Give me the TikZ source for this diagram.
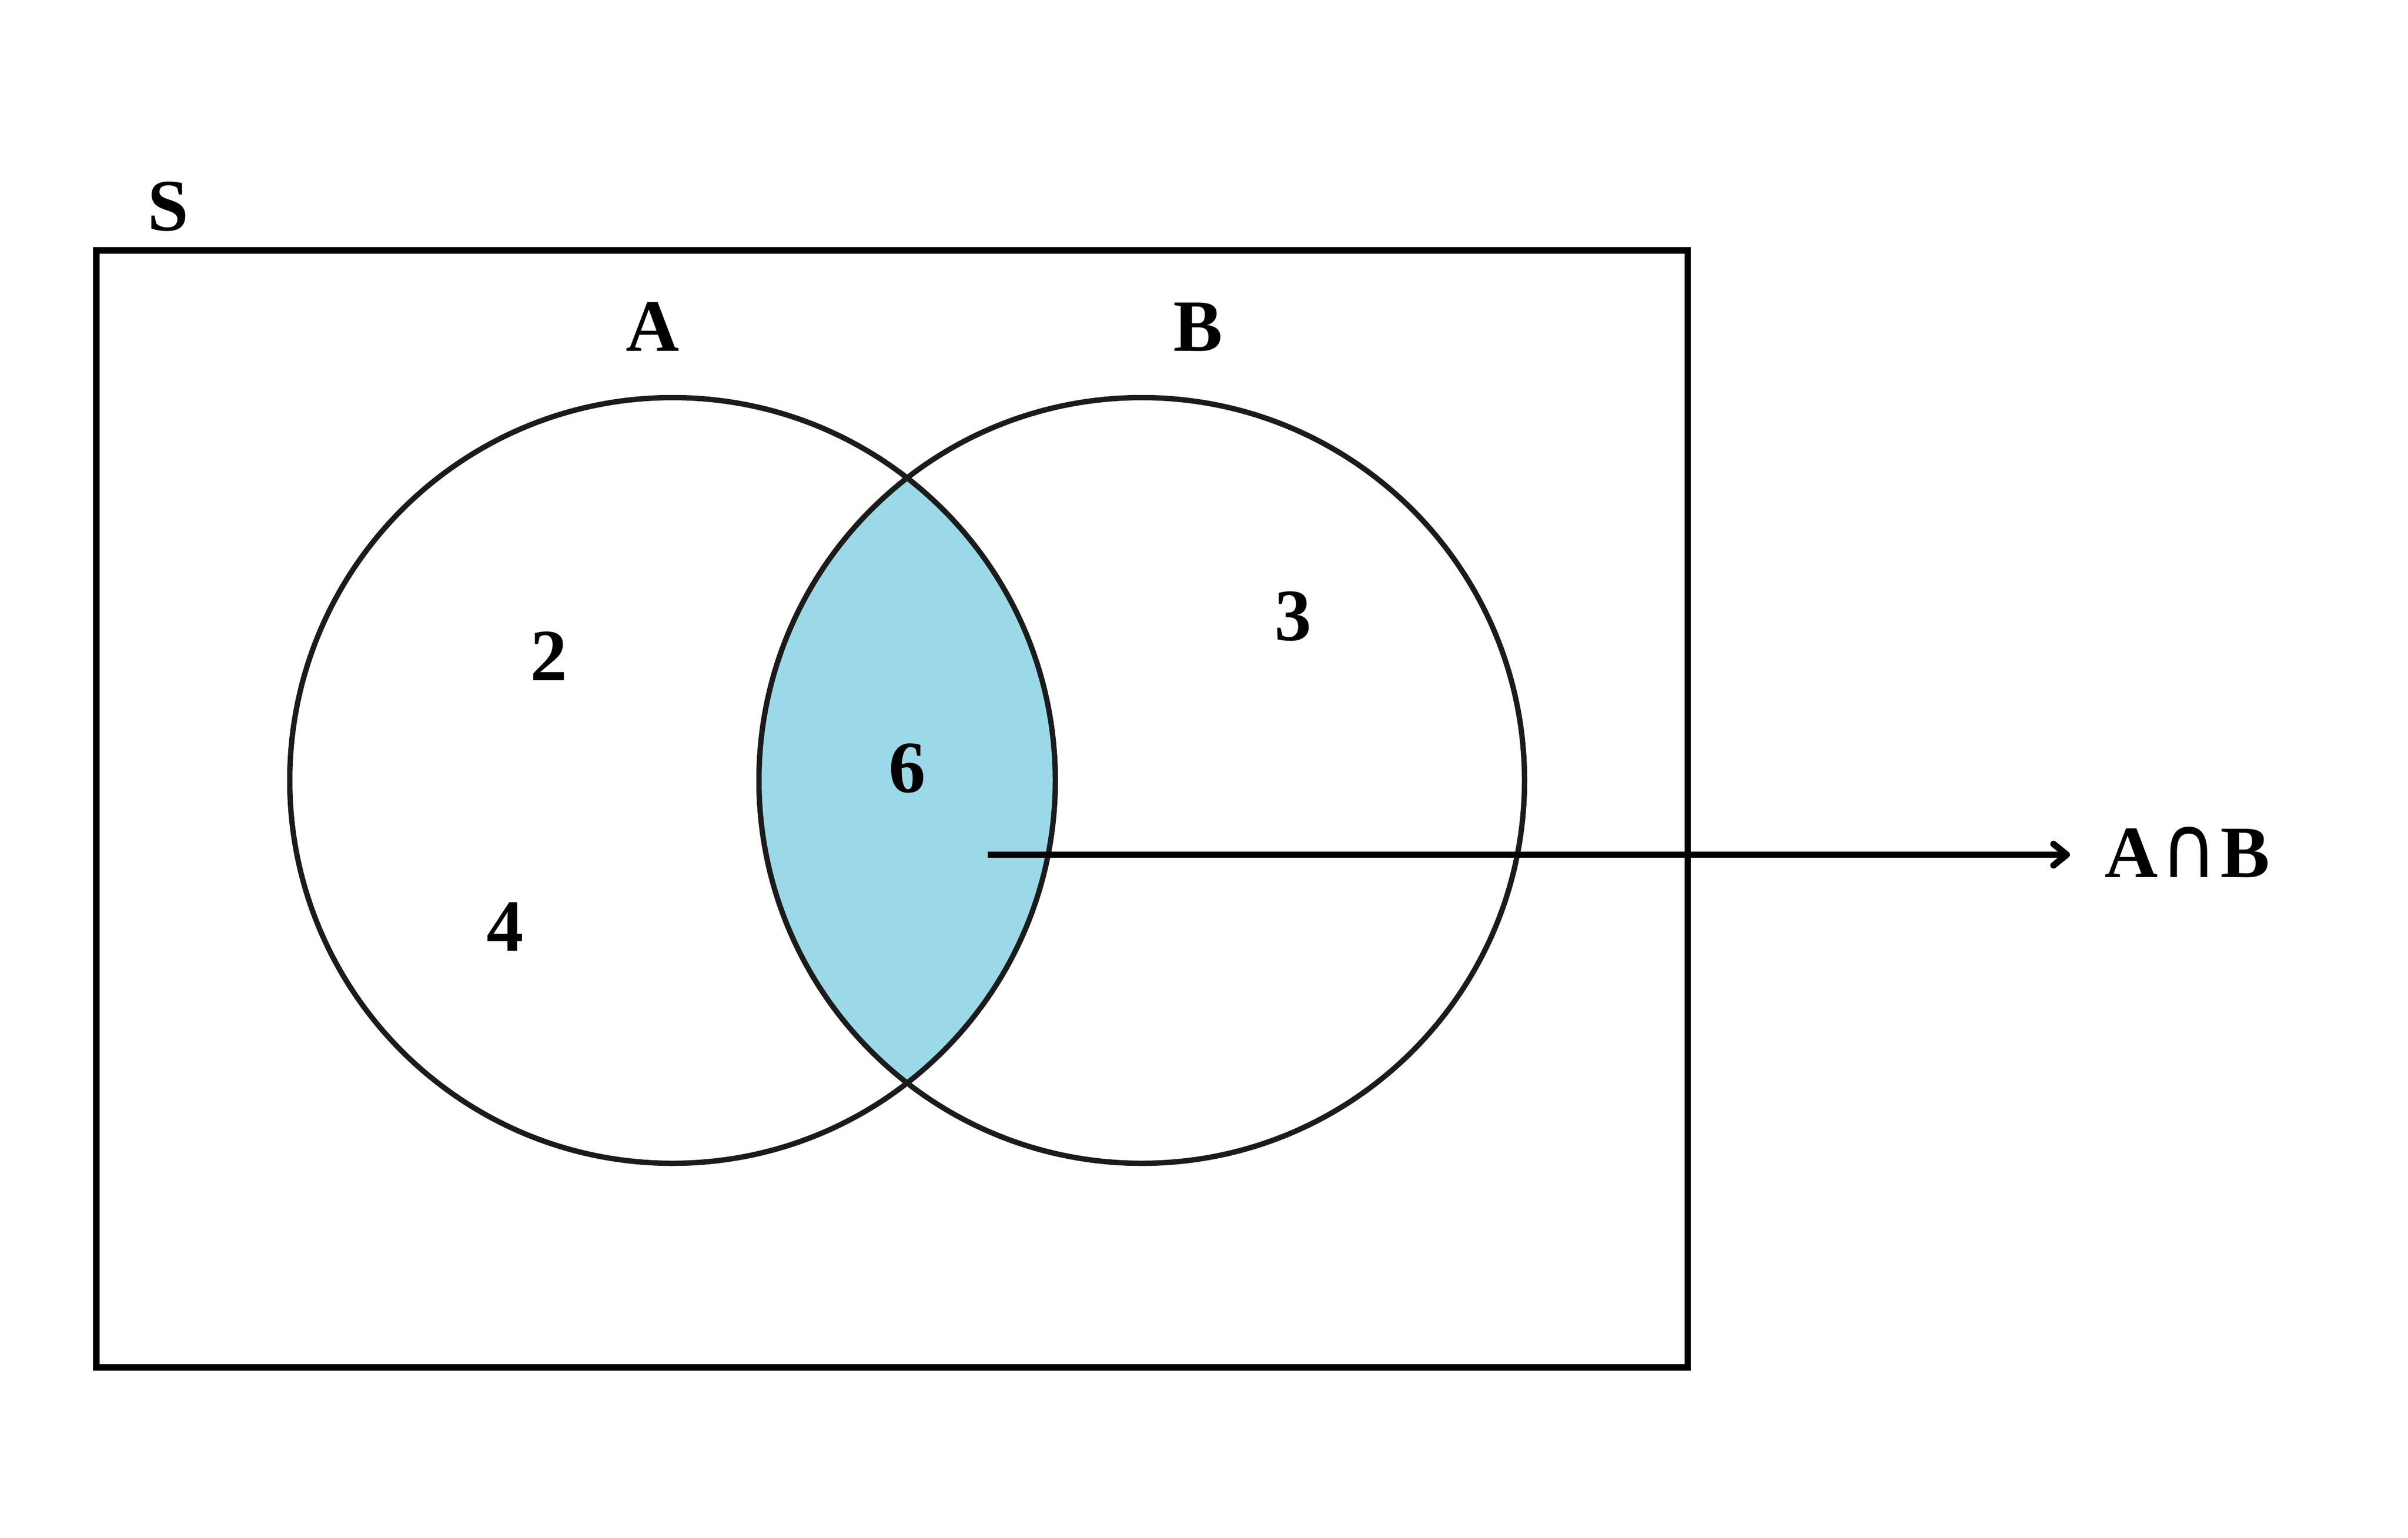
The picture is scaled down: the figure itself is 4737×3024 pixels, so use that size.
\documentclass[tikz,border=0pt]{standalone}
\usepackage{fontspec}
\usepackage{graphicx}
\setmainfont{Liberation Serif}
\newfontfamily\capfont{DejaVu Sans}
\usetikzlibrary{arrows.meta}
\definecolor{lensblue}{RGB}{155,217,232}
\definecolor{circgray}{RGB}{27,27,27}
\begin{document}
\begin{tikzpicture}[x=0.1pt,y=-0.1pt,
  lab/.style={font=\bfseries\fontsize{14.5}{17}\selectfont, inner sep=0pt, text=black},
  setc/.style={draw=circgray, line width=1.05pt},
  frame/.style={draw=black, line width=1.25pt},
  arr/.style={draw=black, line width=1.27pt, -{Straight Barb[length=2.6pt,width=4.2pt,round]}}]
\useasboundingbox (0,0) rectangle (4737,3024);
\fill[white] (0,0) rectangle (4737,3024);
% universal set
\draw[frame] (189.5,492.5) rectangle (3320,2689.5);
\node[lab] (S) at (331,406) {S};
% lens
\coordinate (ca) at (1323,1535);
\coordinate (cb) at (2246,1535);
\begin{scope}
  \clip (ca) circle [radius=753];
  \fill[lensblue] (cb) circle [radius=753];
\end{scope}
\draw[setc] (ca) circle [radius=753];
\draw[setc] (cb) circle [radius=753];
% labels
\node[lab] (A) at (1284,643) {A};
\node[lab] (B) at (2357,643) {B};
\node[lab] (n2) at (1080,1290) {2};
\node[lab] (n3) at (2544,1212) {3};
\node[lab] (n6) at (1785,1511) {6};
\node[lab] (n4) at (994,1823) {4};
% intersection label and arrow
\node[lab, anchor=base west] (ab) at (4138,1725) {A\hspace{0.6pt}\scalebox{1.05}[1.18]{\capfont\mdseries ∩}\hspace{0.6pt}B};
\coordinate (p) at (1943,1681);
\draw[arr] (p) -- ([xshift=-6.6pt]ab.west |- p);
\end{tikzpicture}
\end{document}
